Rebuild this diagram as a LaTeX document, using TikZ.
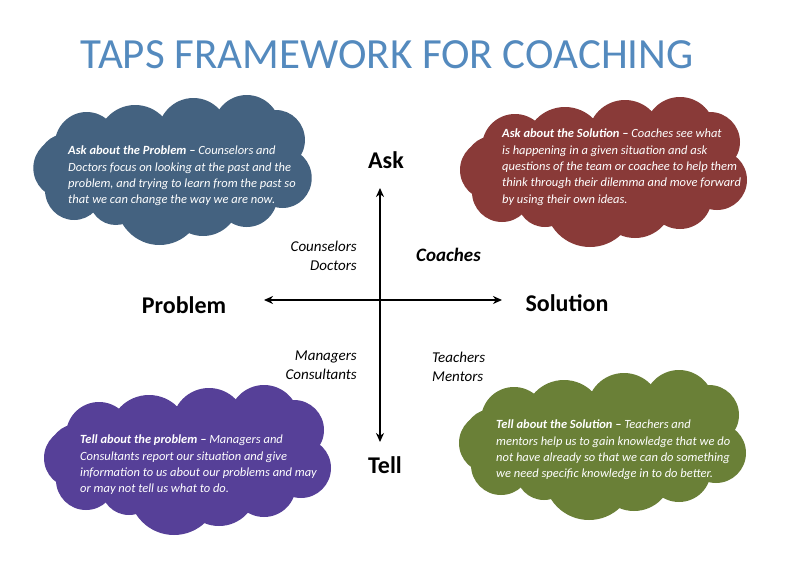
\documentclass[tikz,border=0pt]{standalone}
\usepackage{fontspec}
\setmainfont{Carlito}
\usetikzlibrary{arrows.meta}
\definecolor{titleblue}{RGB}{84,138,190}
\definecolor{cblue}{RGB}{68,98,128}
\definecolor{cred}{RGB}{137,58,56}
\definecolor{cpurple}{RGB}{86,64,152}
\definecolor{cgreen}{RGB}{106,128,55}
\newcommand{\puffs}{-115/-2/30, -103/20/30, -60/27/28, -15/30/45, 30/28/38, 75/25/32, 112/8/30, 105/-30/30, 75/-40/35, 20/-35/37, -40/-25/40, -90/-25/33, -112/-8/28}
\tikzset{
  pics/puffcloud/.style={code={
    \foreach \dx/\dy/\r in \puffs {\draw[white, line width=1.8pt] (\dx,\dy) circle[radius=\r];}
    \foreach \dx/\dy/\r in \puffs {\fill[#1] (\dx,\dy) circle[radius=\r];}
    \fill[#1] (0,0) ellipse[x radius=110, y radius=48];
  }},
  cloudtext/.style={text=white, font=\fontsize{12.5}{16.3}\selectfont\itshape, align=left, inner sep=0pt},
  axislabel/.style={font=\fontsize{24}{26}\selectfont\bfseries, inner sep=0pt},
  rolelabel/.style={font=\fontsize{15}{19.5}\selectfont\itshape, inner sep=0pt},
  axisline/.style={line width=2.2pt, -{Stealth[length=9pt,width=8pt]}}
}
\begin{document}
\begin{tikzpicture}[x=1pt,y=-1pt]
\useasboundingbox (0,0) rectangle (796,562);
\node[font=\fontsize{43}{46}\selectfont, text=titleblue] (title) at (387,55) {TAPS FRAMEWORK FOR COACHING};

\pic[xscale=0.97] at (174,170) {puffcloud=cblue};
\node[cloudtext, anchor=north west] (t1) at (68,146) {\textbf{Ask about the Problem –} Counselors and\\Doctors focus on looking at the past and the\\problem, and trying to learn from the past so\\that we can change the way we are now.};

\pic at (605,172) {puffcloud=cred};
\node[cloudtext, anchor=north west] (t2) at (502,129) {\textbf{Ask about the Solution –} Coaches see what\\is happening in a given situation and ask\\questions of the team or coachee to help them\\think through their dilemma and move forward\\by using their own ideas.};

\pic at (189,460) {puffcloud=cpurple};
\node[cloudtext, anchor=north west] (t3) at (80,435) {\textbf{Tell about the problem –} Managers and\\Consultants report our situation and give\\information to us about our problems and may\\or may not tell us what to do.};

\pic at (604,445) {puffcloud=cgreen};
\node[cloudtext, anchor=north west] (t4) at (496,420) {\textbf{Tell about the Solution –} Teachers and\\mentors help us to gain knowledge that we do\\not have already so that we can do something\\we need specific knowledge in to do better.};

\coordinate (o) at (380,300);
\coordinate (top) at (380,188);
\coordinate (bot) at (380,442);
\coordinate (lft) at (264,300);
\coordinate (rgt) at (502,300);
\draw[axisline] (o) -- (top);
\draw[axisline] (o) -- (bot);
\draw[axisline] (o) -- (lft);
\draw[axisline] (o) -- (rgt);

\node[axislabel] (ask) at (386,160) {Ask};
\node[axislabel] (tell) at (385,465) {Tell};
\node[axislabel] (prob) at (184,305) {Problem};
\node[axislabel] (sol) at (567,303) {Solution};

\node[rolelabel, align=right, anchor=east] (cd) at (357,256) {Counselors\\Doctors};
\node[rolelabel, font=\fontsize{19}{22}\selectfont\bfseries\itshape, anchor=west] (coach) at (416,255) {Coaches};
\node[rolelabel, align=right, anchor=east] (mc) at (357,365) {Managers\\Consultants};
\node[rolelabel, align=left, anchor=west] (tm) at (432,367) {Teachers\\Mentors};
\end{tikzpicture}
\end{document}
